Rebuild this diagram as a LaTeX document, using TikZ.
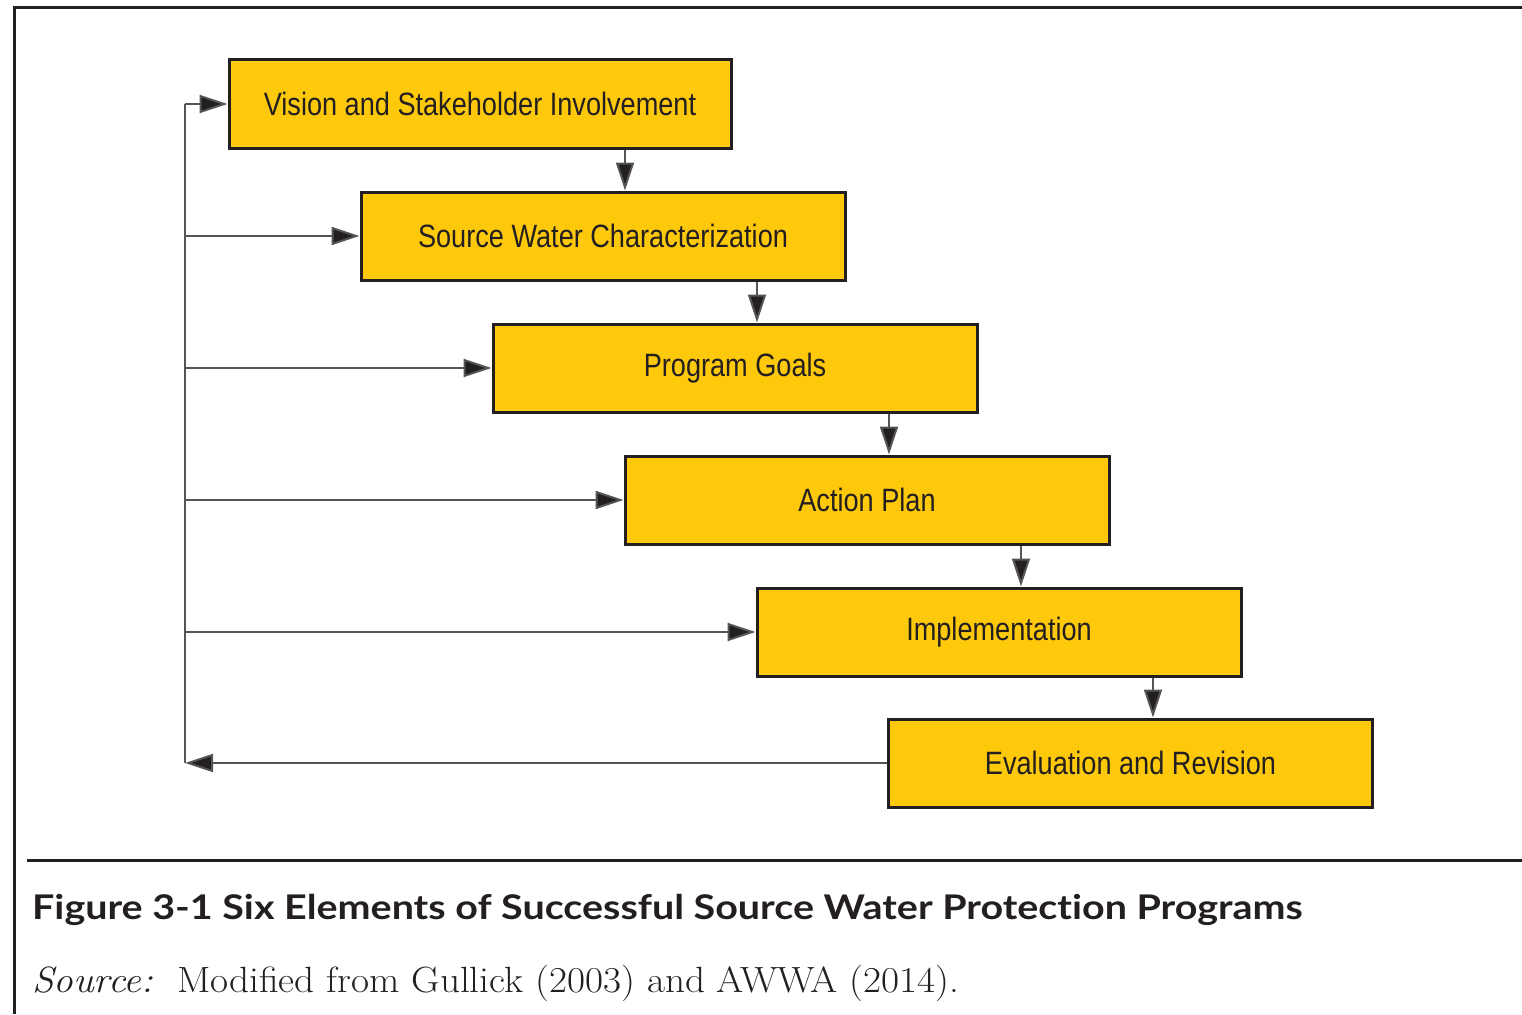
\documentclass[tikz,border=0pt]{standalone}
\usepackage{fontspec}
\setmainfont{Latin Modern Roman}
\newfontfamily\boxfont[FakeStretch=0.84]{Liberation Sans}
\newfontfamily\capfont[FakeStretch=1.16,Ligatures=NoCommon]{Lato}
\newfontfamily\srcfont[FakeStretch=1.075]{Latin Modern Roman}
\usetikzlibrary{arrows.meta,calc}
\definecolor{boxfill}{HTML}{FFC90B}
\definecolor{ink}{HTML}{231F20}
\definecolor{wire}{HTML}{555555}
\tikzset{
  stepbox/.style={draw=ink, line width=3pt, fill=boxfill, rectangle, inner sep=0pt,
    minimum width=484pt, minimum height=88pt, text=ink,
    font=\boxfont\fontsize{32.3}{38}\selectfont},
  wirearrow/.style={draw=wire, line width=2pt, -{Triangle[length=28pt,width=18pt,fill=ink]}},
  wireline/.style={draw=wire, line width=2pt},
  framerule/.style={draw=ink, line width=3pt}
}
\begin{document}
\begin{tikzpicture}[x=1pt,y=-1pt]
\useasboundingbox (0,0) rectangle (1522,1014);
% frame
\draw[framerule] (14,1014) -- (14,8) -- (1522,8);
\draw[framerule] (27,860) -- (1522,860);
% boxes
\node[stepbox, minimum width=502pt] (b1) at (480,104) {Vision and Stakeholder Involvement};
\node[stepbox] (b2) at (603,236) {Source Water Characterization};
\node[stepbox] (b3) at (735,368) {Program Goals};
\node[stepbox] (b4) at (867,500) {Action Plan};
\node[stepbox] (b5) at (999,632) {Implementation};
\node[stepbox] (b6) at (1130.5,763) {Evaluation and Revision};
% down connector x positions
\coordinate (v1) at (625,0);
\coordinate (v2) at (757,0);
\coordinate (v3) at (889,0);
\coordinate (v4) at (1021,0);
\coordinate (v5) at (1153,0);
\draw[wirearrow] (b1.south -| v1) -- (b2.north -| v1);
\draw[wirearrow] (b2.south -| v2) -- (b3.north -| v2);
\draw[wirearrow] (b3.south -| v3) -- (b4.north -| v3);
\draw[wirearrow] (b4.south -| v4) -- (b5.north -| v4);
\draw[wirearrow] (b5.south -| v5) -- (b6.north -| v5);
% feedback loop
\coordinate (L) at (185,0);
\draw[wirearrow] (b6.west) -- (b6.west -| L);
\draw[wireline] (b6.west -| L) -- (b1.west -| L);
\draw[wirearrow] (b1.west -| L) -- (b1.west);
\draw[wirearrow] (b2.west -| L) -- (b2.west);
\draw[wirearrow] (b3.west -| L) -- (b3.west);
\draw[wirearrow] (b4.west -| L) -- (b4.west);
\draw[wirearrow] (b5.west -| L) -- (b5.west);
% caption
\node[anchor=base west, inner sep=0pt, text=ink, font=\capfont\bfseries\fontsize{34}{40}\selectfont] (cap) at (32,919)
  {Figure 3-1 Six Elements of Successful Source Water Protection Programs};
\node[anchor=base west, inner sep=0pt, text=ink, font=\srcfont\fontsize{36.5}{42}\selectfont] (src) at (32,992)
  {\textit{Source:}\ \ Modified from Gullick (2003) and AWWA (2014).};
\end{tikzpicture}
\end{document}
